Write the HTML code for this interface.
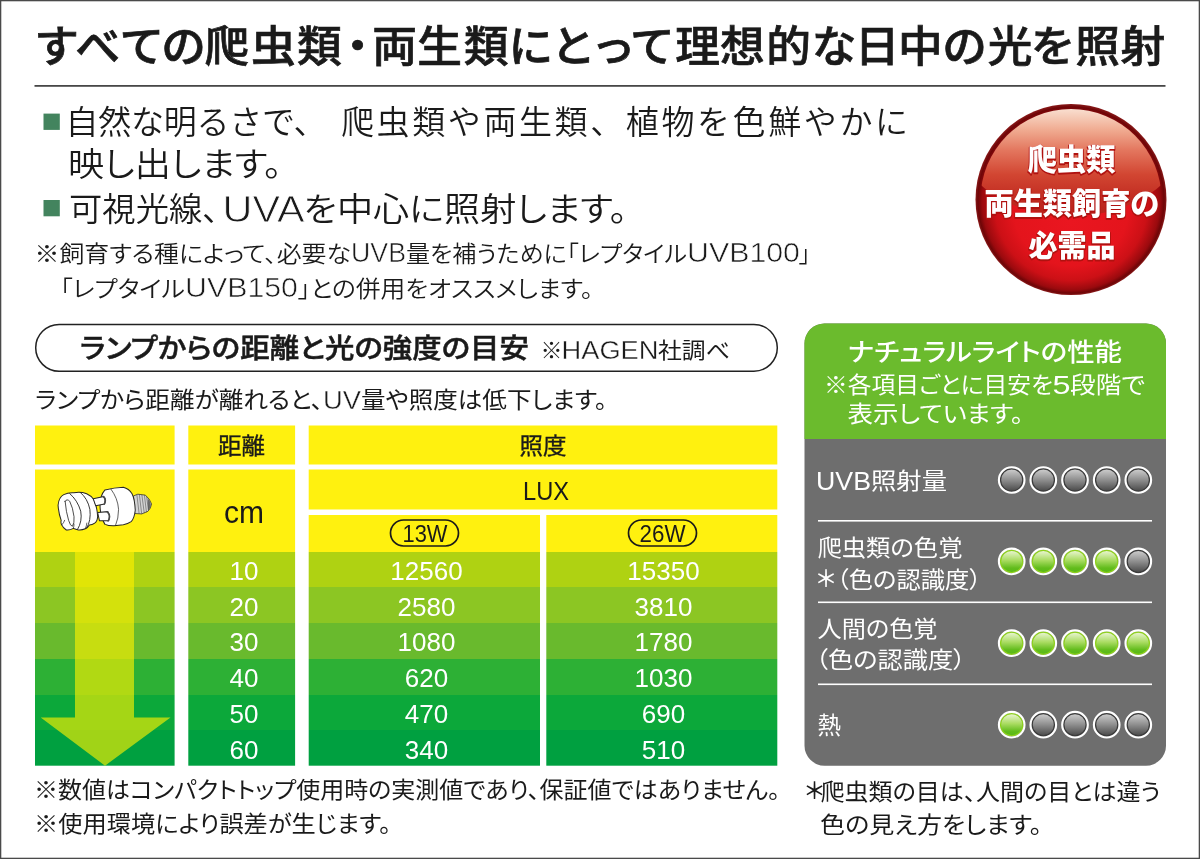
<!DOCTYPE html>
<html lang="ja">
<head>
<meta charset="utf-8">
<title>ナチュラルライト</title>
<style>
html,body{margin:0;padding:0;background:#fff;}
body{width:1200px;height:859px;overflow:hidden;position:relative;}
svg{display:block;position:absolute;left:0;top:0;}
text{font-family:"Liberation Sans","Noto Sans CJK JP",sans-serif;}
.jp{font-family:"Liberation Sans","Noto Sans CJK JP",sans-serif;}
.k{fill:#1a1a1a;}
.p{font-feature-settings:"palt" 1;}
.w{fill:#fff;}
.num{font-family:"Liberation Sans","Noto Sans CJK JP",sans-serif;font-size:26px;fill:#fff;text-anchor:middle;}
</style>
</head>
<body>
<svg width="1200" height="859" viewBox="0 0 1200 859">
<defs>
  <linearGradient id="gOff" x1="0" y1="0" x2="0" y2="1">
    <stop offset="0.05" stop-color="#c8c8c8"/>
    <stop offset="0.5" stop-color="#8e8e8e"/>
    <stop offset="1" stop-color="#4a4a4a"/>
  </linearGradient>
  <linearGradient id="gOn" x1="0" y1="0" x2="0" y2="1">
    <stop offset="0.05" stop-color="#e4f3c8"/>
    <stop offset="0.45" stop-color="#aadc62"/>
    <stop offset="0.8" stop-color="#62bc1c"/>
    <stop offset="1" stop-color="#58b816"/>
  </linearGradient>
  <radialGradient id="ball" cx="0.5" cy="0.5" r="0.5" fx="0.5" fy="0.62">
    <stop offset="0" stop-color="#ea1620"/>
    <stop offset="0.6" stop-color="#e4141c"/>
    <stop offset="0.8" stop-color="#cc1016"/>
    <stop offset="0.93" stop-color="#9a0a0e"/>
    <stop offset="0.975" stop-color="#6e0507"/>
    <stop offset="1" stop-color="#8a1a1a"/>
  </radialGradient>
  <linearGradient id="gloss" x1="0" y1="0" x2="0" y2="1">
    <stop offset="0.33" stop-color="#f9dfd0"/>
    <stop offset="0.46" stop-color="#f0ac92"/>
    <stop offset="0.59" stop-color="#e3765e"/>
    <stop offset="0.74" stop-color="#d24632"/>
    <stop offset="0.9" stop-color="#c02a20"/>
    <stop offset="1" stop-color="#b8201a"/>
  </linearGradient>
  <clipPath id="ballclip"><circle cx="1071" cy="199.5" r="90.5"/></clipPath>
  <g id="off"><circle r="11" fill="url(#gOff)"/><circle r="11.2" fill="none" stroke="#3c3c3c" stroke-width="1.4"/><circle r="12.8" fill="none" stroke="#fff" stroke-width="2.1"/></g>
  <g id="on"><circle r="11" fill="url(#gOn)"/><circle r="11.2" fill="none" stroke="#8ed01e" stroke-width="1.4"/><circle r="12.8" fill="none" stroke="#fff" stroke-width="2.1"/></g>
</defs>

<!-- page border -->
<rect x="0.5" y="0.5" width="1199" height="858" fill="#fff" stroke="#4a4a4a" stroke-width="1.6"/>

<!-- heading -->
<text class="k" transform="scale(1.04,1)" font-size="43" font-weight="500" stroke="#1a1a1a" stroke-width="0.7" text-anchor="middle" x="54.4 94.1 136.5 176.6 217.9 262.8 307.2 343.8 379.4 422.7 467.5 510.4 551.2 589.7 627.4 670.7 713.9 758.4 802.1 843.3 885.0 927.4 971.2 1012.5 1055.4 1099.0" y="62">すべての爬虫類・両生類にとって理想的な日中の光を照射</text>
<rect x="34.5" y="85.1" width="1131" height="1.6" fill="#333"/>

<!-- bullets -->
<rect x="43.5" y="113.6" width="16.3" height="16.3" fill="#43845e"/>
<g class="k" font-size="33" font-weight="350">
<text x="65.5" y="134" textLength="261" lengthAdjust="spacing">自然な明るさで、</text>
<text x="341" y="134" textLength="567" lengthAdjust="spacing">爬虫類や両生類、植物を色鮮やかに</text>
<text class="p" x="68" y="176" textLength="214" lengthAdjust="spacingAndGlyphs">映し出します。</text>
<text class="p" x="69" y="221" textLength="150" lengthAdjust="spacingAndGlyphs">可視光線、</text>
<text x="222.5" y="221.5" font-size="37.5" textLength="82" lengthAdjust="spacingAndGlyphs" stroke="#fff" stroke-width="0.8">UVA</text>
<text class="p" x="303.5" y="221" textLength="324" lengthAdjust="spacingAndGlyphs">を中心に照射します。</text>
</g>
<rect x="43.5" y="200" width="16.3" height="16.3" fill="#43845e"/>

<!-- notes -->
<g class="k p" font-size="23" font-weight="350">
<text x="34.5" y="262" textLength="316.5" lengthAdjust="spacingAndGlyphs">※飼育する種によって、必要な</text>
<text x="351" y="262" font-size="28" textLength="55" lengthAdjust="spacingAndGlyphs" stroke="#fff" stroke-width="0.6">UVB</text>
<text x="406" y="262" textLength="281" lengthAdjust="spacingAndGlyphs">量を補うために「レプタイル</text>
<text x="687" y="262" font-size="28" textLength="113" lengthAdjust="spacingAndGlyphs" stroke="#fff" stroke-width="0.6">UVB100</text>
<text x="799" y="262">」</text>
<text x="60" y="297" textLength="125" lengthAdjust="spacingAndGlyphs">「レプタイル</text>
<text x="185" y="297" font-size="28" textLength="113" lengthAdjust="spacingAndGlyphs" stroke="#fff" stroke-width="0.6">UVB150</text>
<text x="298" y="297" textLength="295" lengthAdjust="spacingAndGlyphs">」との併用をオススメします。</text>
</g>

<!-- red ball -->
<g id="redball">
  <circle cx="1071" cy="199.5" r="95.5" fill="url(#ball)"/>
  <g clip-path="url(#ballclip)">
    <ellipse cx="1071" cy="136" rx="114" ry="80" fill="url(#gloss)"/>
  </g>
  <g font-weight="900" font-size="30" text-anchor="middle">
    <g fill="#b01210" stroke="#b01210" stroke-width="1.8" stroke-linejoin="round" transform="translate(0,1.2)">
      <text x="1071.5" y="170" textLength="88" lengthAdjust="spacingAndGlyphs">爬虫類</text>
      <text x="1072" y="213.5" textLength="175" lengthAdjust="spacingAndGlyphs">両生類飼育の</text>
      <text x="1072" y="255.5" textLength="87" lengthAdjust="spacingAndGlyphs">必需品</text>
    </g>
    <g fill="#fff">
      <text x="1071.5" y="170" textLength="88" lengthAdjust="spacingAndGlyphs">爬虫類</text>
      <text x="1072" y="213.5" textLength="175" lengthAdjust="spacingAndGlyphs">両生類飼育の</text>
      <text x="1072" y="255.5" textLength="87" lengthAdjust="spacingAndGlyphs">必需品</text>
    </g>
  </g>
</g>

<!-- pill title -->
<rect x="35.7" y="324.4" width="741.6" height="46.8" rx="23.4" fill="#fff" stroke="#222" stroke-width="1.5"/>
<text class="k p" x="80" y="358" font-size="27.5" font-weight="500" stroke="#1a1a1a" stroke-width="0.5" textLength="449" lengthAdjust="spacingAndGlyphs">ランプからの距離と光の強度の目安</text>
<g class="k p" font-size="22" font-weight="400">
<text x="540.5" y="358">※</text>
<text x="561.5" y="359" font-size="25.5" textLength="97" lengthAdjust="spacingAndGlyphs" stroke="#fff" stroke-width="0.4">HAGEN</text>
<text x="658" y="358" textLength="72" lengthAdjust="spacingAndGlyphs">社調べ</text>
</g>
<g class="k p" font-size="23" font-weight="400">
<text x="35" y="408" textLength="288" lengthAdjust="spacingAndGlyphs">ランプから距離が離れると、</text>
<text x="323" y="409" font-size="25.5" textLength="38" lengthAdjust="spacingAndGlyphs" stroke="#fff" stroke-width="0.4">UV</text>
<text x="361" y="408" textLength="246" lengthAdjust="spacingAndGlyphs">量や照度は低下します。</text>
</g>

<!-- table -->
<g id="table">
  <!-- yellow header cells -->
  <rect x="35" y="425.5" width="139.6" height="39" fill="#fff10f"/>
  <rect x="188.3" y="425.5" width="106.8" height="39" fill="#fff10f"/>
  <rect x="308.7" y="425.5" width="468.6" height="39" fill="#fff10f"/>
  <rect x="35" y="469.5" width="139.6" height="82.5" fill="#fff10f"/>
  <rect x="188.3" y="469.5" width="106.8" height="82.5" fill="#fff10f"/>
  <rect x="308.7" y="469.5" width="468.6" height="40" fill="#fff10f"/>
  <rect x="308.7" y="515" width="231.3" height="37" fill="#fff10f"/>
  <rect x="546.3" y="515" width="231" height="37" fill="#fff10f"/>
  <!-- green rows -->
  <g id="rows">
    <g fill="#afd212"><rect x="35" y="552" width="139.6" height="35"/><rect x="188.3" y="552" width="106.8" height="35"/><rect x="308.7" y="552" width="231.3" height="35"/><rect x="546.3" y="552" width="231" height="35"/></g>
    <g fill="#8cc623"><rect x="35" y="587" width="139.6" height="36"/><rect x="188.3" y="587" width="106.8" height="36"/><rect x="308.7" y="587" width="231.3" height="36"/><rect x="546.3" y="587" width="231" height="36"/></g>
    <g fill="#69ba2d"><rect x="35" y="623" width="139.6" height="36"/><rect x="188.3" y="623" width="106.8" height="36"/><rect x="308.7" y="623" width="231.3" height="36"/><rect x="546.3" y="623" width="231" height="36"/></g>
    <g fill="#2db035"><rect x="35" y="659" width="139.6" height="36"/><rect x="188.3" y="659" width="106.8" height="36"/><rect x="308.7" y="659" width="231.3" height="36"/><rect x="546.3" y="659" width="231" height="36"/></g>
    <g fill="#0ca83a"><rect x="35" y="695" width="139.6" height="35"/><rect x="188.3" y="695" width="106.8" height="35"/><rect x="308.7" y="695" width="231.3" height="35"/><rect x="546.3" y="695" width="231" height="35"/></g>
    <g fill="#00a040"><rect x="35" y="730" width="139.6" height="35.7"/><rect x="188.3" y="730" width="106.8" height="35.7"/><rect x="308.7" y="730" width="231.3" height="35.7"/><rect x="546.3" y="730" width="231" height="35.7"/></g>
  </g>
  <!-- arrow -->
  <path d="M75 552 H134 V717.5 H170.5 L105 765.7 L40.7 717.5 H75 Z" fill="#fff100" opacity="0.63"/>
  <!-- bulb -->
  <g id="bulb" transform="translate(50,480) scale(0.091667)" stroke="#262626" stroke-width="11" stroke-linejoin="round" stroke-linecap="round" fill="#fff">
    <path d="M915 172 L958 155 L1040 165 Q1090 205 1108 262 Q1100 310 1068 342 L1000 370 L928 366 Z" fill="#d4d4d4" stroke-width="8"/>
    <path d="M1066 200 Q1100 235 1100 285 Q1092 318 1070 336 Z" fill="#6a6a6a" stroke="none"/>
    <path d="M948 162 L972 366 M975 160 L1000 368 M1002 162 L1028 358 M1030 166 L1052 348 M1054 182 L1074 332" fill="none" stroke="#4a4a4a" stroke-width="6"/>
    <path d="M88 275 Q95 190 150 160 Q200 135 260 140 Q330 125 400 150 Q455 175 480 215 Q515 300 520 400 Q515 455 488 470 Q460 490 430 492 Q410 525 385 532 Q340 550 300 542 Q270 535 255 528 Q215 550 178 545 Q140 520 128 490 Q115 470 122 440 Q95 370 88 275 Z"/>
    <path d="M215 148 Q300 220 335 340 Q355 450 300 540" fill="none" stroke-width="10"/>
    <path d="M330 135 Q410 200 435 320 Q450 440 400 525" fill="none" stroke-width="10"/>
    <path d="M165 232 Q185 200 215 232 Q250 300 262 400 Q268 470 245 505 Q222 505 203 440 Q175 350 165 232 Z" stroke-width="9"/>
    <path d="M128 490 Q150 470 160 440 M255 528 Q262 505 262 480 M385 532 Q400 500 402 470" fill="none" stroke-width="8"/>
    <path d="M600 108 Q700 85 800 80 Q860 95 895 150 Q925 210 930 330 Q920 420 885 455 Q850 480 800 488 L700 500 Q640 502 600 484 Q560 420 548 320 Q535 180 600 108 Z"/>
    <path d="M665 100 Q740 200 748 320 Q748 420 715 496" fill="none" stroke-width="8"/>
    <path d="M472 205 L588 180 Q610 215 596 262 L498 280 Z"/>
    <path d="M520 355 L632 345 Q658 395 640 445 L540 445 Z"/>
    <path d="M580 180 Q604 195 604 225 Q602 252 590 264" fill="none" stroke="#4a4a4a" stroke-width="17"/>
    <path d="M626 348 Q650 372 650 400 Q647 430 634 446" fill="none" stroke="#4a4a4a" stroke-width="17"/>
  </g>
  <!-- header labels -->
  <text class="k p" x="241.5" y="454" font-size="23" font-weight="400" stroke="#1a1a1a" stroke-width="0.35" text-anchor="middle" textLength="47" lengthAdjust="spacingAndGlyphs">距離</text>
  <text class="k p" x="543" y="454" font-size="23" font-weight="400" stroke="#1a1a1a" stroke-width="0.35" text-anchor="middle" textLength="47" lengthAdjust="spacingAndGlyphs">照度</text>
  <text class="k" x="244" y="523" font-size="30.5" text-anchor="middle" textLength="40" lengthAdjust="spacingAndGlyphs">cm</text>
  <text class="k" x="546" y="500" font-size="26.5" text-anchor="middle" textLength="46" lengthAdjust="spacingAndGlyphs">LUX</text>
  <rect x="390.5" y="520" width="68" height="26" rx="13" fill="none" stroke="#1a1a1a" stroke-width="1.7"/>
  <text class="k p" x="425" y="542.3" font-size="24.5" text-anchor="middle" textLength="45" lengthAdjust="spacingAndGlyphs">13W</text>
  <rect x="628.5" y="520" width="68" height="26" rx="13" fill="none" stroke="#1a1a1a" stroke-width="1.7"/>
  <text class="k p" x="662.5" y="542.3" font-size="24.5" text-anchor="middle" textLength="46" lengthAdjust="spacingAndGlyphs">26W</text>
  <!-- numbers -->
  <g class="num">
    <text x="244" y="580">10</text><text x="426.5" y="580">12560</text><text x="663.5" y="580">15350</text>
    <text x="244" y="615.5">20</text><text x="426.5" y="615.5">2580</text><text x="663.5" y="615.5">3810</text>
    <text x="244" y="651">30</text><text x="426.5" y="651">1080</text><text x="663.5" y="651">1780</text>
    <text x="244" y="687">40</text><text x="426.5" y="687">620</text><text x="663.5" y="687">1030</text>
    <text x="244" y="723">50</text><text x="426.5" y="723">470</text><text x="663.5" y="723">690</text>
    <text x="244" y="758.5">60</text><text x="426.5" y="758.5">340</text><text x="663.5" y="758.5">510</text>
  </g>
</g>

<!-- footnotes left -->
<text class="k p" x="34" y="797.5" font-size="23" font-weight="400" textLength="746" lengthAdjust="spacingAndGlyphs">※数値はコンパクトトップ使用時の実測値であり、保証値ではありません。</text>
<text class="k p" x="34" y="831.5" font-size="23" font-weight="400" textLength="357" lengthAdjust="spacingAndGlyphs">※使用環境により誤差が生じます。</text>

<!-- right panel -->
<g id="panel">
  <path d="M804.5 765.7 V343.5 a20 20 0 0 1 20 -20 H1146 a20 20 0 0 1 20 20 V745.7 a20 20 0 0 1 -20 20 H824.5 a20 20 0 0 1 -20 -20 Z" fill="#6e6e6e"/>
  <path d="M804.5 439 V343.5 a20 20 0 0 1 20 -20 H1146 a20 20 0 0 1 20 20 V439 Z" fill="#6bbb2d"/>
  <text class="w p" x="848" y="361" font-size="25" font-weight="500" textLength="274" lengthAdjust="spacingAndGlyphs">ナチュラルライトの性能</text>
  <text class="w p" x="824" y="393" font-size="22.5" font-weight="400" textLength="229" lengthAdjust="spacingAndGlyphs">※各項目ごとに目安を</text>
  <text class="w p" x="1052.5" y="393.5" font-size="25" font-weight="400" textLength="18" lengthAdjust="spacingAndGlyphs">5</text>
  <text class="w p" x="1070" y="393" font-size="22.5" font-weight="400" textLength="75" lengthAdjust="spacingAndGlyphs">段階で</text>
  <text class="w p" x="847.5" y="421.8" font-size="22.5" font-weight="400" textLength="176" lengthAdjust="spacingAndGlyphs">表示しています。</text>

  <text class="w p" x="816" y="490" font-size="25.5" font-weight="400" textLength="55" lengthAdjust="spacingAndGlyphs">UVB</text>
  <text class="w p" x="871" y="489" font-size="23" font-weight="400" textLength="76" lengthAdjust="spacingAndGlyphs">照射量</text>
  <use href="#off" x="1011.7" y="480"/><use href="#off" x="1043.3" y="480"/><use href="#off" x="1075" y="480"/><use href="#off" x="1106.7" y="480"/><use href="#off" x="1138.3" y="480"/>
  <rect x="818" y="520" width="334" height="1.6" fill="#fff"/>

  <text class="w p" x="817.5" y="556" font-size="23" font-weight="400" textLength="145" lengthAdjust="spacingAndGlyphs">爬虫類の色覚</text>
  <text class="w p" x="816.5" y="587" font-size="23" font-weight="500">＊</text>
  <text class="w p" x="836.5" y="587.5" font-size="23" font-weight="400" textLength="145" lengthAdjust="spacingAndGlyphs">（色の認識度）</text>
  <use href="#on" x="1011.7" y="561.4"/><use href="#on" x="1043.3" y="561.4"/><use href="#on" x="1075" y="561.4"/><use href="#on" x="1106.7" y="561.4"/><use href="#off" x="1138.3" y="561.4"/>
  <rect x="818" y="601.5" width="334" height="1.6" fill="#fff"/>

  <text class="w p" x="817.5" y="637" font-size="23" font-weight="400" textLength="120" lengthAdjust="spacingAndGlyphs">人間の色覚</text>
  <text class="w p" x="815.4" y="668" font-size="23" font-weight="400" textLength="150.5" lengthAdjust="spacingAndGlyphs">（色の認識度）</text>
  <use href="#on" x="1011.7" y="643.2"/><use href="#on" x="1043.3" y="643.2"/><use href="#on" x="1075" y="643.2"/><use href="#on" x="1106.7" y="643.2"/><use href="#on" x="1138.3" y="643.2"/>
  <rect x="818" y="683.5" width="334" height="1.6" fill="#fff"/>

  <text class="w p" x="817.5" y="733.5" font-size="23.5" font-weight="400">熱</text>
  <use href="#on" x="1011.7" y="724.7"/><use href="#off" x="1043.3" y="724.7"/><use href="#off" x="1075" y="724.7"/><use href="#off" x="1106.7" y="724.7"/><use href="#off" x="1138.3" y="724.7"/>
</g>

<!-- footnotes right -->
<text class="k p" x="805" y="799" font-size="23" font-weight="500">＊</text>
<text class="k p" x="820.5" y="799.5" font-size="23" font-weight="400" textLength="340" lengthAdjust="spacingAndGlyphs">爬虫類の目は、人間の目とは違う</text>
<text class="k p" x="820" y="833" font-size="23" font-weight="400" textLength="222" lengthAdjust="spacingAndGlyphs">色の見え方をします。</text>
</svg>
</body>
</html>
